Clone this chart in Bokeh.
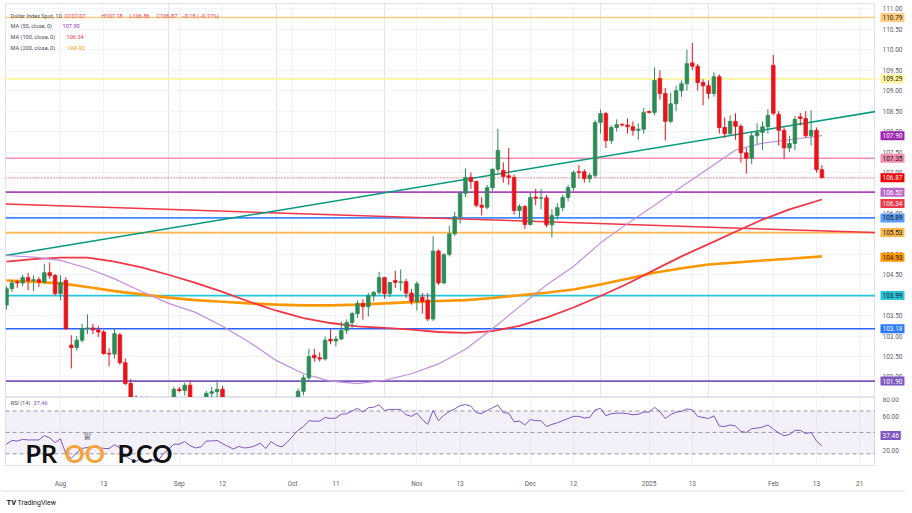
import pandas as pd
from bokeh.plotting import figure
from bokeh.layouts import column, row
from bokeh.models import (Range1d, FixedTicker, Label, Span,
                          ColumnDataSource, Grid, BoxAnnotation)
from bokeh.core.properties import value
from bokeh.embed import file_html
from bokeh.resources import INLINE

# ---------------- data (Dollar Index Spot, daily) ----------------
start_date = "2024-07-18"
end_date = "2025-02-14"
anchor_date = "2024-08-01"

opens = [103.76, 104.16, 104.32, 104.30, 104.43, 104.36, 104.38, 104.32, 104.55, 104.48,
         104.04, 104.36, 102.78, 102.72, 102.90, 103.18, 103.20, 103.15, 103.10, 102.58,
         102.56, 103.03, 102.35, 101.84, 101.40, 101.10, 101.50, 100.72, 100.88, 100.55,
         101.09, 101.35,
         101.70, 101.67, 101.80, 101.36, 101.08, 101.18, 101.60, 101.64, 101.70, 101.37,
         101.11, 100.74, 100.89, 100.62, 100.65, 100.72, 100.87, 100.40, 100.92, 100.55, 100.38,
         100.78, 101.20, 101.65, 101.98, 102.53, 102.47, 102.44, 102.92, 102.88, 102.93,
         103.14, 103.33, 103.55, 103.80, 103.72, 103.99, 104.07, 104.43, 104.04, 104.36,
         104.31, 104.33, 104.05,
         103.85, 103.95, 103.88, 103.42, 105.08, 104.30, 105.00, 105.50, 105.92, 106.49,
         106.88, 106.78, 106.20, 106.15, 106.63, 107.08, 107.05, 106.92, 106.88, 106.07, 106.17,
         105.73, 106.40, 106.37, 106.38, 105.72, 105.95, 106.14, 106.39, 106.63, 107.02,
         107.02, 106.85, 106.93, 108.22, 108.44, 107.78, 108.10, 108.18, 108.16, 108.12,
         108.03, 108.06,
         108.49, 108.47, 109.30, 108.93, 108.25, 108.68, 109.00, 109.17, 109.68, 109.60,
         109.20, 109.12, 108.93, 109.34, 108.10, 107.95, 108.25, 108.13, 107.48, 107.35,
         107.90, 107.98, 108.12,
         109.62, 108.42, 108.03, 107.60, 107.71, 108.36, 108.32, 107.90, 108.03, 107.07]

highs = [104.22, 104.38, 104.38, 104.50, 104.55, 104.48, 104.44, 104.77, 104.80, 104.52,
         104.49, 104.44, 103.02, 103.00, 103.30, 103.53, 103.30, 103.25, 103.15, 102.70,
         103.20, 103.08, 102.45, 101.95, 101.55, 101.52, 101.52, 101.04, 100.92, 101.16,
         101.38, 101.76,
         101.76, 101.86, 101.92, 101.42, 101.50, 101.66, 101.76, 101.92, 101.78, 101.40,
         101.12, 101.06, 101.00, 101.10, 100.88, 101.08, 100.95, 101.00, 101.02, 100.62, 100.80,
         101.30, 101.72, 102.05, 102.69, 102.69, 102.60, 102.99, 103.17, 103.00, 103.36,
         103.41, 103.60, 103.87, 103.90, 104.05, 104.10, 104.57, 104.45, 104.33, 104.60,
         104.63, 104.40, 104.15,
         104.34, 104.05, 104.05, 105.44, 105.12, 105.03, 105.70, 106.04, 106.54, 107.10,
         107.00, 106.80, 106.40, 106.70, 107.10, 108.07, 107.25, 107.60, 106.95, 106.22, 106.20,
         106.50, 106.60, 106.60, 106.45, 106.10, 106.25, 106.45, 106.70, 107.05, 107.18,
         107.08, 107.00, 108.28, 108.54, 108.48, 108.15, 108.30, 108.20, 108.32, 108.25,
         108.20, 108.58,
         108.52, 109.57, 109.50, 109.07, 108.95, 109.12, 109.25, 110.00, 110.17, 109.66,
         109.28, 109.25, 109.45, 109.40, 108.35, 108.40, 108.45, 108.18, 107.60, 108.00,
         108.20, 108.25, 108.55,
         109.88, 108.50, 108.10, 107.90, 108.38, 108.46, 108.50, 108.52, 108.10, 107.18]

lows = [103.65, 104.08, 104.18, 104.22, 104.12, 104.10, 104.20, 104.28, 104.40, 104.00,
        103.88, 103.15, 102.21, 102.64, 102.84, 103.05, 103.05, 102.98, 102.55, 102.26,
        102.45, 102.30, 101.80, 101.30, 100.98, 101.00, 100.60, 100.70, 100.52, 100.50,
        100.94, 101.20,
        101.62, 101.55, 101.26, 100.90, 100.85, 101.15, 101.42, 101.39, 101.28, 100.90,
        100.58, 100.60, 100.22, 100.50, 100.52, 100.70, 100.30, 100.20, 100.40, 100.16, 100.25,
        100.60, 101.15, 101.55, 101.90, 102.37, 102.38, 102.40, 102.80, 102.75, 102.90,
        103.05, 103.20, 103.45, 103.40, 103.48, 103.85, 104.02, 103.92, 103.95, 104.18,
        104.10, 103.93, 103.77,
        103.62, 103.55, 103.37, 103.37, 104.25, 104.27, 104.95, 105.45, 105.75, 106.40,
        106.60, 106.15, 105.95, 106.10, 106.55, 107.00, 106.75, 106.70, 105.97, 105.90, 105.62,
        105.70, 106.20, 106.10, 105.66, 105.41, 105.85, 106.05, 106.30, 106.55, 106.85,
        106.75, 106.75, 106.86, 107.95, 107.60, 107.70, 108.00, 108.12, 107.95, 107.90,
        107.80, 107.95,
        108.44, 108.40, 108.78, 107.78, 108.20, 108.50, 108.85, 109.00, 109.50, 109.00,
        108.64, 108.80, 108.85, 107.95, 107.85, 107.90, 107.80, 107.24, 106.97, 107.20,
        107.70, 107.55, 107.95,
        108.40, 107.66, 107.33, 107.50, 107.55, 108.15, 107.85, 107.66, 107.00, 106.86]

closes = [104.16, 104.30, 104.30, 104.43, 104.36, 104.38, 104.32, 104.55, 104.48, 104.04,
          104.31, 103.18, 102.72, 102.90, 103.18, 103.20, 103.15, 103.10, 102.57, 102.56,
          103.06, 102.35, 101.84, 101.40, 101.10, 101.50, 100.72, 100.88, 100.55, 101.09,
          101.35, 101.70,
          101.67, 101.80, 101.36, 101.08, 101.18, 101.60, 101.64, 101.70, 101.37, 101.11,
          100.74, 100.89, 100.62, 100.65, 100.72, 100.87, 100.40, 100.92, 100.55, 100.38, 100.78,
          101.20, 101.65, 101.98, 102.50, 102.47, 102.44, 102.90, 102.88, 102.93, 103.14,
          103.33, 103.55, 103.80, 103.72, 103.99, 104.07, 104.43, 104.04, 104.31, 104.31,
          104.33, 104.05, 103.85,
          104.28, 103.85, 103.42, 105.08, 104.30, 104.99, 105.50, 105.92, 106.49, 106.88,
          106.78, 106.20, 106.15, 106.63, 107.08, 107.54, 106.90, 106.88, 106.07, 106.17, 105.73,
          106.39, 106.37, 106.38, 105.72, 105.95, 106.14, 106.39, 106.63, 107.00, 107.00,
          106.85, 106.93, 108.22, 108.44, 107.78, 108.10, 108.17, 108.16, 108.12, 108.03,
          108.06, 108.47,
          108.47, 109.25, 108.93, 108.25, 108.68, 109.00, 109.17, 109.66, 109.60, 109.20,
          109.12, 108.93, 109.34, 108.10, 107.95, 108.25, 108.13, 107.48, 107.35, 107.90,
          107.98, 108.12, 108.40,
          108.45, 108.03, 107.60, 107.71, 108.30, 108.32, 107.90, 108.03, 107.07, 106.87]

rsi = [39, 42.5, 42, 43.5, 43, 43, 43, 47, 45, 40.5,
       44, 30, 26, 31, 35, 36, 36.5, 36, 35, 35,
       38.5, 35.5, 28, 25, 23, 26, 22, 24.5, 23, 30,
       34, 39,
       39, 41.5, 37.5, 35.5, 36.5, 42, 42, 42.5, 39.5, 37,
       34.5, 37, 35.5, 36, 37.5, 40, 35, 41.5, 38, 36.5, 41,
       46.5, 52, 55.5, 61, 60.5, 60.5, 64, 63, 63.5, 67,
       67.5, 70, 72.5, 69, 73, 73.5, 76, 70.5, 71.5, 71.5,
       71.5, 66.5, 65,
       68, 62, 57.5, 70.5, 61, 66, 69.5, 72, 75, 76,
       74.5, 68.5, 67.5, 70.5, 73, 75.5, 68.5, 68, 60, 60.5, 57,
       62, 61, 61, 55.5, 57.5, 59, 61, 63, 65, 65,
       63.5, 64, 71, 72.5, 65.5, 67.5, 68, 68, 67.5, 66.5,
       67, 69,
       69, 73.5, 69.5, 63, 66.5, 69, 69.5, 72, 71, 65,
       64, 63, 65.5, 56, 55.5, 57, 56, 51, 50, 53.5,
       54, 55, 57,
       53, 49.5, 47, 48, 52, 52, 49, 50, 42, 37.46]

# moving averages (bar offset from 1 Aug 2024, value)
ma_bars = [-10, -5, 0, 5, 10, 15, 20, 25, 30, 35, 40, 45, 50, 55, 60, 65, 70, 75, 80, 85,
           90, 95, 100, 105, 110, 115, 120, 125, 130, 135, 141]
ma55 = [104.97, 104.93, 104.85, 104.66, 104.40, 104.09, 103.80, 103.58, 103.24, 102.85,
        102.40, 102.08, 101.90, 101.84, 101.92, 102.08, 102.32, 102.68, 103.18, 103.72,
        104.25, 104.70, 105.28, 105.75, 106.20, 106.65, 107.10, 107.55, 107.72, 107.80, 107.90]
ma100 = [104.82, 104.88, 104.92, 104.92, 104.82, 104.68, 104.50, 104.30, 104.08, 103.84,
         103.62, 103.44, 103.32, 103.24, 103.20, 103.16, 103.10, 103.08, 103.12, 103.25,
         103.45, 103.70, 103.98, 104.28, 104.62, 104.95, 105.25, 105.55, 105.85, 106.10, 106.34]
ma200 = [104.36, 104.33, 104.29, 104.20, 104.10, 104.02, 103.94, 103.88, 103.84, 103.80,
         103.77, 103.75, 103.75, 103.77, 103.80, 103.83, 103.86, 103.88, 103.93, 104.00,
         104.06, 104.14, 104.26, 104.40, 104.55, 104.66, 104.75, 104.80, 104.85, 104.89, 104.95]

# drawn trend lines (bar offset, price)
green_trend_x = [-10.2, 150.9]
green_trend_y = [104.97, 108.49]
red_trend_x = [-10.2, 150.9]
red_trend_y = [106.23, 105.53]

# horizontal levels
level_prices = [110.79, 109.29, 107.35, 106.52, 105.89, 105.53, 103.99, 103.18, 101.90]
level_colors = ["#ffcc80", "#fff59d", "#f48fb1", "#ab47bc", "#448aff", "#ffb74d",
                "#26c6da", "#2962ff", "#7e57c2"]
last_price = 106.87

# right-scale tags: (value, background, text colour)
tags = [(110.79, "#ffcc80", "#131722"), (109.29, "#fff59d", "#131722"),
        (107.90, "#9c27b0", "#ffffff"), (107.35, "#f48fb1", "#131722"),
        (106.87, "#f20000", "#ffffff"), (106.52, "#ba68c8", "#ffffff"),
        (106.34, "#f23645", "#ffffff"), (105.89, "#5b9cf6", "#131722"),
        (105.53, "#ffb74d", "#131722"), (104.93, "#ff9800", "#131722"),
        (103.99, "#26c6da", "#131722"), (103.18, "#2979ff", "#ffffff"),
        (101.90, "#7e57c2", "#ffffff")]

price_ticks = [102.0, 102.5, 103.0, 103.5, 104.0, 104.5, 105.0, 105.5, 106.0, 106.5,
               107.0, 107.5, 108.0, 108.5, 109.0, 109.5, 110.0, 110.5, 111.0]
rsi_ticks = [20, 40, 60, 80]

tick_dates = ["2024-08-01", "2024-08-13", "2024-09-02", "2024-09-12", "2024-10-01",
              "2024-10-11", "2024-11-01", "2024-11-13", "2024-12-02", "2024-12-12",
              "2025-01-01", "2025-01-13", "2025-02-03", "2025-02-13"]
tick_texts = ["Aug", "13", "Sep", "12", "Oct", "11", "Nov", "13", "Dec", "12",
              "2025", "13", "Feb", "13"]
future_tick = (148, "21")

# ---------------- build ----------------
dates = pd.bdate_range(start_date, end_date)
anchor = dates.get_loc(pd.Timestamp(anchor_date))
xs = [i - anchor for i in range(len(dates))]
UP, DOWN = "#2e8b57", "#e8141c"
colors = [UP if c >= o else DOWN for o, c in zip(opens, closes)]
src = ColumnDataSource(dict(
    x=xs, high=highs, low=lows,
    top=[max(o, c) for o, c in zip(opens, closes)],
    bottom=[min(o, c) for o, c in zip(opens, closes)],
    color=colors))

tick_x = [dates.get_loc(pd.Timestamp(d)) - anchor for d in tick_dates] + [future_tick[0]]
tick_lbl = tick_texts + [future_tick[1]]

FONT = "Roboto"
GRID = "#f0f3fa"
AX = "#5d606b"
BORDER = "#e0e3eb"
LEFT = 5
FRAME_W = 870
SCALE_W = 31
PX_PER_BAR = 5.4
X0 = -10.185
x_range = Range1d(X0, X0 + FRAME_W / PX_PER_BAR)
MAIN_TOP = 3
MAIN_H = 394
PX_PER_PT = 40.9
main_y = Range1d(111.132 - MAIN_H / PX_PER_PT, 111.132)
RSI_H = 73
PX_PER_RSI = 1.15
RSI_TOP = 82.61
rsi_y = Range1d(RSI_TOP - RSI_H / PX_PER_RSI, RSI_TOP)
AXIS_H = 20


def bare(fig):
    fig.background_fill_color = "white"
    fig.border_fill_color = "white"


p = figure(width=LEFT + FRAME_W, height=MAIN_TOP + MAIN_H, x_range=x_range, y_range=main_y,
           output_backend="svg", toolbar_location=None, x_axis_location=None,
           y_axis_location=None, min_border_left=LEFT, min_border_right=0,
           min_border_top=MAIN_TOP, min_border_bottom=0)
bare(p)
p.outline_line_color = BORDER
p.add_layout(Grid(dimension=1, ticker=FixedTicker(ticks=price_ticks), grid_line_color=GRID))
p.add_layout(Grid(dimension=0, ticker=FixedTicker(ticks=tick_x), grid_line_color=GRID))

for lv, lc in zip(level_prices, level_colors):
    p.add_layout(Span(location=lv, dimension="width", line_color=lc, line_width=1.6,
                      level="underlay"))
p.add_layout(Span(location=last_price, dimension="width", line_color="#f23645",
                  line_width=1, line_dash="1 2", level="underlay"))

p.line(red_trend_x, red_trend_y, line_color="#f23645", line_width=1.5)
p.line(green_trend_x, green_trend_y, line_color="#089981", line_width=1.5)
p.line(ma_bars, ma200, line_color="#ff9800", line_width=2.6)
p.line(ma_bars, ma100, line_color="#f23645", line_width=1.8)
p.line(ma_bars, ma55, line_color="#c28ee0", line_width=1.2)

p.segment("x", "high", "x", "low", source=src, line_color="color", line_width=1)
p.vbar(x="x", width=0.66, top="top", bottom="bottom", source=src,
       fill_color="color", line_color="color", line_width=0.8)


def txt(fig, x, y, s, color, size="5.6px", **kw):
    fig.add_layout(Label(x=x, y=y, x_units="screen", y_units="screen", text=s,
                         text_font=FONT, text_font_size=size, text_color=color,
                         text_baseline="middle", **kw))


LEG = "#4a4e59"
RED = "#f23645"
txt(p, 5, 382, "Dollar Index Spot, 1D", LEG)
txt(p, 59, 382, "O107.07", RED)
txt(p, 96, 382, "H107.18", RED)
txt(p, 124, 382, "L106.86", RED)
txt(p, 151, 382, "C106.87", RED)
txt(p, 176, 382, "\u22120.18 (\u22120.17%)", RED)
txt(p, 5, 371.3, "MA (55, close, 0)", LEG)
txt(p, 57, 371.3, "107.90", "#9c27b0")
txt(p, 5, 361, "MA (100, close, 0)", LEG)
txt(p, 61, 361, "106.34", RED)
txt(p, 5, 349.3, "MA (200, close, 0)", LEG)
txt(p, 62, 349.3, "104.93", "#ff9800")


def scale_fig(height, top, yr, ticks):
    s = figure(width=SCALE_W, height=height, x_range=Range1d(0, SCALE_W), y_range=yr,
               output_backend="svg", toolbar_location=None, x_axis_location=None,
               y_axis_location=None, min_border_left=0, min_border_right=0,
               min_border_top=top, min_border_bottom=0)
    bare(s)
    s.outline_line_color = None
    s.grid.visible = False
    s.text(x=[7] * len(ticks), y=ticks, text=[f"{t:.2f}" for t in ticks],
           text_font=value(FONT), text_font_size="6.5px", text_color=AX,
           text_baseline="middle")
    return s


def tag(fig, v, bg, fg, dy=0):
    fig.add_layout(Label(x=5, y=v, x_units="screen", y_units="data", text=f"{v:.2f}",
                         text_font=FONT, text_font_size="6.5px", text_color=fg,
                         text_baseline="middle", text_align="left",
                         background_fill_color=bg, padding=2, y_offset=dy))


ps = scale_fig(MAIN_TOP + MAIN_H, MAIN_TOP, main_y, price_ticks)
for v, bg, fg in tags:
    tag(ps, v, bg, fg, dy=-4 if v == 106.34 else 0)

# ---------------- RSI panel ----------------
r = figure(width=LEFT + FRAME_W, height=RSI_H + AXIS_H, x_range=x_range, y_range=rsi_y,
           output_backend="svg", toolbar_location=None, y_axis_location=None,
           min_border_left=LEFT, min_border_right=0, min_border_top=0,
           min_border_bottom=AXIS_H)
bare(r)
r.outline_line_color = BORDER
r.ygrid.grid_line_color = None
r.xgrid.grid_line_color = GRID
r.xgrid.ticker = FixedTicker(ticks=tick_x)
rx = r.xaxis[0]
rx.ticker = FixedTicker(ticks=tick_x)
rx.major_label_overrides = {t: s for t, s in zip(tick_x, tick_lbl)}
rx.major_label_text_font = FONT
rx.major_label_text_font_size = "6.5px"
rx.major_label_text_color = AX
rx.major_tick_line_color = None
rx.minor_tick_line_color = None
rx.axis_line_color = BORDER
rx.major_label_standoff = 8

r.add_layout(BoxAnnotation(bottom=30, top=70, fill_color="#7e57c2", fill_alpha=0.09,
                           line_color=None, level="underlay"))
for lv in (70, 50, 30):
    r.add_layout(Span(location=lv, dimension="width", line_color="#9598a1",
                      line_width=1, line_dash="4 3", level="underlay"))
r.line(xs, rsi, line_color="#7e57c2", line_width=1)

txt(r, 5, 63, "RSI (14)", LEG)
txt(r, 28, 63, f"{rsi[-1]:.2f}", "#7e57c2")

# logo
for x0, s, c in ((20, "PR", "#111111"), (59, "OO", "#f5a33b"), (112, "P.CO", "#111111")):
    r.add_layout(Label(x=x0, y=13, x_units="screen", y_units="screen", text=s,
                       text_font="Lato", text_font_style="bold", text_font_size="25px",
                       text_color=c, text_baseline="middle"))
r.add_layout(Label(x=77, y=29, x_units="screen", y_units="screen", text="\u2655",
                   text_font="DejaVu Sans", text_font_size="11px", text_color="#222222",
                   text_baseline="middle"))

rs_h = RSI_H + AXIS_H
rs = scale_fig(rs_h, 0, Range1d(RSI_TOP - rs_h / PX_PER_RSI, RSI_TOP), rsi_ticks)
tag(rs, rsi[-1], "#7e57c2", "#ffffff")

# footer
f = figure(width=LEFT + FRAME_W + SCALE_W, height=20, x_range=Range1d(0, 1),
           y_range=Range1d(0, 1), output_backend="svg", toolbar_location=None,
           x_axis_location=None, y_axis_location=None, min_border=0)
bare(f)
f.outline_line_color = None
f.grid.visible = False
f.add_layout(Span(location=1, dimension="width", line_color=BORDER, line_width=2))
f.add_layout(Label(x=6, y=8, x_units="screen", y_units="screen", text="TV",
                   text_font=FONT, text_font_style="bold", text_font_size="7.5px",
                   text_color="#131722", text_baseline="middle"))
f.add_layout(Label(x=17, y=8, x_units="screen", y_units="screen", text="TradingView",
                   text_font=FONT, text_font_size="7px", text_color="#131722",
                   text_baseline="middle"))

layout = column(row(p, ps, spacing=0), row(r, rs, spacing=0), f, spacing=0)
open("out.html", "w").write(file_html(layout, INLINE))
